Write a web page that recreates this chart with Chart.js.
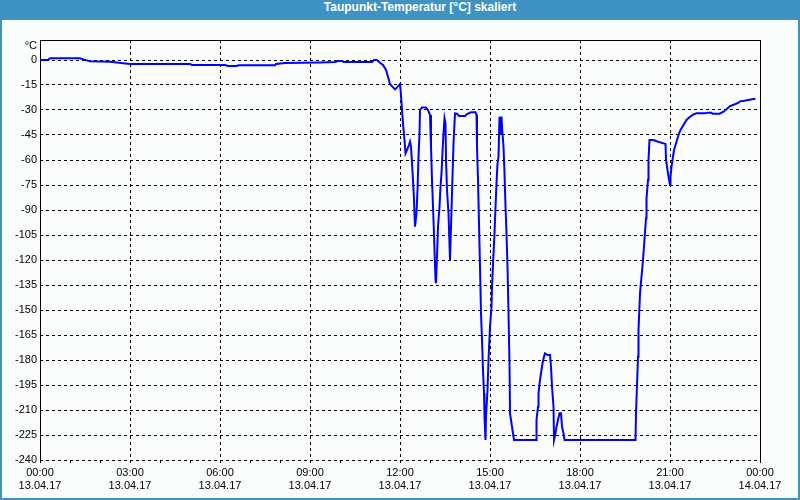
<!DOCTYPE html>
<html>
<head>
<meta charset="utf-8">
<script src="https://cdn.jsdelivr.net/npm/chart.js@4/dist/chart.umd.min.js"></script>
<style>
  html, body { margin: 0; padding: 0; }
  body { width: 800px; height: 500px; background: #3e93c4; position: relative; overflow: hidden; }
  #title { position: absolute; left: 0; top: 0; width: 800px; height: 20px; line-height: 20px;
           color: #fff; font: bold 12px "Liberation Sans", Arial, sans-serif; text-align: center;
           padding-left: 40px; box-sizing: border-box; }
  #wrap { position: absolute; left: 2px; top: 20px; width: 796px; height: 478px; background: #fbfdfc; }
</style>
</head>
<body>
<div id="title">Taupunkt-Temperatur [°C] skaliert</div>
<div id="wrap"><canvas id="c" width="796" height="478"></canvas></div>
<script>
// ---- data ----
const times = ["00:00","00:16","00:20","01:20","01:28","01:40","02:20","03:00","05:00","05:04","06:10","06:16","06:34","06:36","07:50","07:52","08:10","09:20","09:50","09:56","10:04","10:08","11:04","11:08","11:14","11:20","11:26","11:32","11:36","11:40","11:46","11:50","11:54","12:00","12:02","12:04","12:06","12:09","12:11","12:14","12:18","12:20","12:22","12:24","12:26","12:28","12:30","12:33","12:35","12:37","12:39","12:40","12:44","12:52","12:56","13:00","13:02","13:04","13:07","13:09","13:11","13:12","13:14","13:16","13:19","13:21","13:23","13:25","13:27","13:29","13:31","13:32","13:34","13:37","13:40","13:42","13:45","13:47","13:50","13:54","13:58","14:10","14:14","14:22","14:31","14:33","14:34","14:36","14:38","14:40","14:42","14:44","14:46","14:48","14:49","14:51","14:52","14:55","14:57","15:00","15:03","15:04","15:07","15:09","15:11","15:13","15:15","15:17","15:19","15:21","15:23","15:24","15:27","15:29","15:31","15:33","15:35","15:37","15:39","15:40","15:43","15:45","15:48","16:32","16:33","16:36","16:37","16:40","16:43","16:45","16:48","16:50","16:55","17:00","17:02","17:04","17:07","17:08","17:11","17:13","17:16","17:19","17:22","17:24","17:27","17:29","19:51","19:52","19:56","19:57","20:00","20:06","20:12","20:13","20:16","20:17","20:19","20:27","20:32","20:40","20:47","20:51","20:52","20:55","20:57","21:00","21:01","21:03","21:05","21:08","21:11","21:13","21:17","21:21","21:27","21:33","21:40","21:47","21:53","22:11","22:15","22:23","22:25","22:39","22:47","22:53","23:00","23:11","23:17","23:20","23:29","23:44","23:51"];
const dewPoint = [0,0,1,1,0.2,-0.8,-1,-2.4,-2.4,-3,-3,-3.6,-3.6,-3.2,-3.2,-2.4,-1.8,-1.5,-1.2,-0.6,-0.6,-1.2,-1.2,0,0,-1.6,-3,-6,-10,-14.4,-16.4,-17.6,-16.4,-14.4,-21,-30,-38,-48,-56,-54,-51,-49,-52,-62,-72,-84,-100,-92,-78,-58,-44,-30,-28.5,-28.5,-30,-33,-52,-72,-96,-114,-132,-134,-118,-100,-88,-76,-68,-55,-44,-35,-38,-60,-78,-92,-120,-100,-70,-50,-32,-32.2,-33.6,-33.6,-32.4,-31.4,-31.4,-33,-52,-72,-98,-124,-152,-168,-186,-200,-214,-228,-214,-198,-180,-160,-148,-136,-116,-104,-88,-74,-62,-58,-34,-45,-34,-40,-52,-68,-88,-104,-124,-152,-182,-212,-218,-222,-228,-228,-216,-208,-200,-192,-186,-182,-178,-176,-177,-177,-184,-196,-208,-228,-224,-220,-216,-212,-212,-220,-224,-228,-228,-212,-178,-162,-140,-120,-95,-83,-72,-60,-48,-48,-48.6,-49.4,-50,-50.4,-60,-66,-70,-75,-70,-64,-60,-54,-51,-49,-45,-42,-39,-36,-34,-32.6,-32,-32,-31.6,-31.6,-32.2,-32.2,-31,-29.6,-27.6,-26.4,-25.6,-24.8,-24.4,-23.6,-23.2];
const yTicks = [0,-15,-30,-45,-60,-75,-90,-105,-120,-135,-150,-165,-180,-195,-210,-225,-240];
const xTickHours = [0,1,2,3,4,5,6,7,8,9,10,11,12,13,14,15,16,17,18,19,20,21,22,23,24];
const xTimeLabels = {0:"00:00",3:"03:00",6:"06:00",9:"09:00",12:"12:00",15:"15:00",18:"18:00",21:"21:00",24:"00:00"};
const xDateLabels = {0:"13.04.17",3:"13.04.17",6:"13.04.17",9:"13.04.17",12:"13.04.17",15:"13.04.17",18:"13.04.17",21:"13.04.17",24:"14.04.17"};
const unitLabel = "°C";

const toMin = s => { const [h, m] = s.split(":").map(Number); return h * 60 + m; };
const points = times.map((t, i) => ({ x: toMin(t), y: dewPoint[i] }));
const FONT = { family: "'Liberation Sans', Arial, sans-serif", size: 11 };

const framePlugin = {
  id: 'frame',
  beforeDatasetsDraw(chart) {
    const { ctx, chartArea: a } = chart;
    ctx.save();
    ctx.strokeStyle = '#000';
    ctx.lineWidth = 1;
    ctx.setLineDash([]);
    ctx.beginPath();
    ctx.moveTo(Math.round(a.left) + 0.5, Math.round(a.bottom) + 0.5);
    ctx.lineTo(Math.round(a.left) + 0.5, Math.round(a.top) + 0.5);
    ctx.lineTo(Math.round(a.right) + 0.5, Math.round(a.top) + 0.5);
    ctx.lineTo(Math.round(a.right) + 0.5, Math.round(a.bottom) + 0.5);
    ctx.stroke();
    ctx.fillStyle = '#000';
    ctx.font = "11px 'Liberation Sans', Arial, sans-serif";
    ctx.textAlign = 'right';
    ctx.textBaseline = 'middle';
    ctx.fillText(unitLabel, a.left - 3, a.top + 6);
    ctx.restore();
  }
};

new Chart(document.getElementById('c'), {
  type: 'line',
  data: {
    datasets: [{
      data: points,
      borderColor: '#0000ff',
      borderWidth: 2,
      pointRadius: 0,
      tension: 0,
      fill: false
    }]
  },
  options: {
    responsive: false,
    animation: false,
    layout: { padding: { left: 0, top: 20, right: 38, bottom: 0 } },
    plugins: { legend: { display: false }, tooltip: { enabled: false }, title: { display: false } },
    scales: {
      x: {
        type: 'linear',
        min: 0, max: 1440,
        afterBuildTicks: s => { s.ticks = xTickHours.map(h => ({ value: h * 60 })); },
        afterFit: s => { s.height = 38; },
        ticks: {
          autoSkip: false, maxRotation: 0, minRotation: 0,
          color: '#000', font: FONT, padding: 3,
          callback: v => { const h = v / 60; return xTimeLabels[h] !== undefined ? [xTimeLabels[h], xDateLabels[h]] : ''; }
        },
        grid: {
          color: c => (c.tick && (c.tick.value / 60) % 3 === 0) ? '#000' : 'rgba(0,0,0,0)',
          tickColor: '#000', tickLength: 3, lineWidth: 1
        },
        border: { display: false, dash: [3, 3] }
      },
      y: {
        min: -240, max: 12,
        afterBuildTicks: s => { s.ticks = yTicks.map(v => ({ value: v })); },
        afterFit: s => { s.width = 38; },
        ticks: { color: '#000', font: FONT, padding: 3, autoSkip: false },
        grid: { color: '#000', drawTicks: false, lineWidth: 1 },
        border: { display: false, dash: [3, 3] }
      }
    }
  },
  plugins: [framePlugin]
});
</script>
</body>
</html>
